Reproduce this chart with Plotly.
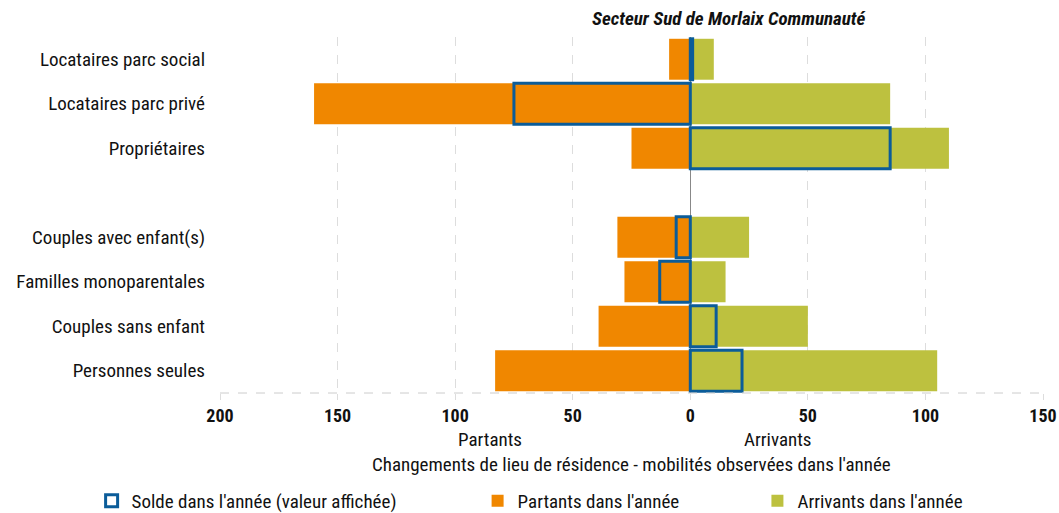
import plotly.graph_objects as go

# categories, top to bottom (blank slot separates the two groups)
categories = ["Locataires parc social", "Locataires parc privé", "Propriétaires", " ",
              "Couples avec enfant(s)", "Familles monoparentales", "Couples sans enfant", "Personnes seules"]
partants = [9, 160, 25, None, 31, 28, 39, 83]
arrivants = [10, 85, 110, None, 25, 15, 50, 105]
solde = [1, -75, 85, None, -6, -13, 11, 22]

tick_vals = [-200, -150, -100, -50, 0, 50, 100, 150]
tick_text = ["200", "150", "100", "50", "0", "50", "100", "150"]

FONT = "Liberation Sans Narrow, Roboto Condensed, Roboto, sans-serif"
ORANGE = "#F08700"
GREEN = "#BDC13F"
BLUE = "#0B5C99"

fig = go.Figure()
fig.add_trace(go.Bar(
    y=categories, x=[-v if v is not None else None for v in partants],
    orientation="h", name="Partants dans l'année",
    marker=dict(color=ORANGE, line=dict(width=0)), width=0.92, legend="legend2"))
fig.add_trace(go.Bar(
    y=categories, x=arrivants,
    orientation="h", name="Arrivants dans l'année",
    marker=dict(color=GREEN, line=dict(width=0)), width=0.92, legend="legend3"))
fig.add_trace(go.Bar(
    y=categories, x=solde,
    orientation="h", name="Solde dans l'année (valeur affichée)",
    marker=dict(color="rgba(0,0,0,0)", line=dict(color=BLUE, width=3)), width=0.92, legend="legend"))

leg = dict(orientation="h", yref="container", y=0.0234, xanchor="left", yanchor="middle",
           font=dict(size=19), itemwidth=30, bgcolor="rgba(0,0,0,0)")

fig.update_layout(
    width=1059, height=513,
    margin=dict(l=220, r=16, t=37, b=120, autoexpand=False),
    barmode="overlay",
    plot_bgcolor="white", paper_bgcolor="white",
    font=dict(family=FONT, size=19, color="#111"),
    xaxis=dict(range=[-200, 150], tickvals=tick_vals, ticktext=tick_text,
               tickfont=dict(size=18, weight="bold"),
               showgrid=True, gridcolor="#dddddd", griddash="dash", gridwidth=1,
               zeroline=True, zerolinecolor="#888888", zerolinewidth=1,
               ticks="outside", ticklen=6, tickcolor="#dddddd"),
    yaxis=dict(categoryorder="array", categoryarray=categories, autorange="reversed",
               showgrid=False, zeroline=False, ticks="", ticklabelstandoff=14,
               tickfont=dict(size=19)),
    legend=dict(leg, x=-0.156),
    legend2=dict(leg, x=0.313),
    legend3=dict(leg, x=0.653),
    showlegend=True,
)

fig.add_shape(type="line", xref="paper", yref="paper", x0=0, x1=1, y0=0, y1=0,
              line=dict(color="#cccccc", width=1, dash="dash"))

fig.add_annotation(text="<b><i>Secteur Sud de Morlaix Communauté</i></b>", xref="paper", yref="paper",
                   x=0.618, y=1, yanchor="bottom", yshift=5, showarrow=False, font=dict(size=19))
fig.add_annotation(text="Partants", x=-85, xref="x", yref="paper", y=-0.132, yanchor="middle",
                   showarrow=False, font=dict(size=19))
fig.add_annotation(text="Arrivants", x=37, xref="x", yref="paper", y=-0.132, yanchor="middle",
                   showarrow=False, font=dict(size=19))
fig.add_annotation(text="Changements de lieu de résidence - mobilités observées dans l'année",
                   x=-25, xref="x", yref="paper", y=-0.202, yanchor="middle",
                   showarrow=False, font=dict(size=19))

fig.write_html("out.html", config={"displayModeBar": False},
               post_script="document.body.style.margin='0';")
